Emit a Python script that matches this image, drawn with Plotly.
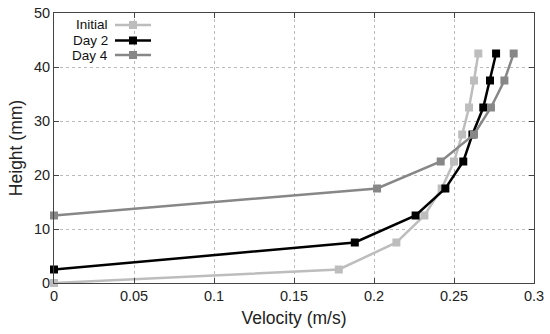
import plotly.graph_objects as go

heights_initial = [0, 2.5, 7.5, 12.5, 17.5, 22.5, 27.5, 32.5, 37.5, 42.5]
vel_initial = [0, 0.178, 0.214, 0.2315, 0.2423, 0.250, 0.2551, 0.2594, 0.2625, 0.2652]

heights_day2 = [2.5, 7.5, 12.5, 17.5, 22.5, 27.5, 32.5, 37.5, 42.5]
vel_day2 = [0, 0.188, 0.226, 0.2446, 0.2558, 0.2615, 0.2683, 0.2725, 0.2763]

heights_day4 = [12.5, 17.5, 22.5, 27.5, 32.5, 37.5, 42.5]
vel_day4 = [0, 0.2019, 0.2417, 0.2625, 0.2731, 0.2815, 0.2873]

series_names = ["Initial", "Day 2", "Day 4"]
colors = ["#bdbdbd", "#000000", "#878787"]
x_ticks = [0, 0.05, 0.1, 0.15, 0.2, 0.25, 0.3]
x_tick_text = ["0", "0.05", "0.1", "0.15", "0.2", "0.25", "0.3"]
y_ticks = [0, 10, 20, 30, 40, 50]

fig = go.Figure()
data = [(vel_initial, heights_initial), (vel_day2, heights_day2), (vel_day4, heights_day4)]
for (xs, ys), name, c in zip(data, series_names, colors):
    fig.add_trace(go.Scatter(
        x=xs, y=ys, name=name, mode="lines+markers",
        line=dict(color=c, width=2.5),
        marker=dict(symbol="square", size=8, color=c),
        cliponaxis=False, showlegend=False,
    ))

font = "Liberation Sans, Arial, sans-serif"

# manual legend: text on the left, sample line on the right
leg_y = [25, 40.5, 55]
for name, c, yy in zip(series_names, colors, leg_y):
    yp = 1 - (yy - 13) / 270.0
    x0 = (115 - 54) / 480.0
    x1 = (151 - 54) / 480.0
    xm = (133 - 54) / 480.0
    fig.add_annotation(x=(110 - 54) / 480.0, y=yp, xref="paper", yref="paper",
                       text=name, showarrow=False, xanchor="right", yanchor="middle",
                       font=dict(size=13.5, color="#111", family=font))
    fig.add_shape(type="line", xref="paper", yref="paper", x0=x0, x1=x1, y0=yp, y1=yp,
                  line=dict(color=c, width=2.5))
    fig.add_shape(type="rect", xref="paper", yref="paper",
                  x0=xm - 4 / 480.0, x1=xm + 4 / 480.0, y0=yp - 4 / 270.0, y1=yp + 4 / 270.0,
                  fillcolor=c, line=dict(width=0))

axis_common = dict(
    showline=True, linecolor="#444", linewidth=1, mirror="allticks",
    ticks="inside", ticklen=5, tickcolor="#444",
    showgrid=True, gridcolor="#bbbbbb", griddash="dot", gridwidth=1,
    zeroline=False, tickfont=dict(size=14.5, color="#222", family=font),
    automargin=False,
)

fig.update_xaxes(range=[0, 0.3], tickvals=x_ticks, ticktext=x_tick_text,
                 title=dict(text="Velocity (m/s)", font=dict(size=17.5, color="#222", family=font), standoff=8),
                 **axis_common)
fig.update_yaxes(range=[0, 50], tickvals=y_ticks,
                 title=dict(text="Height (mm)", font=dict(size=17.5, color="#222", family=font), standoff=6),
                 **axis_common)

fig.update_layout(
    width=550, height=334,
    margin=dict(l=54, r=16, t=13, b=51, autoexpand=False),
    plot_bgcolor="white", paper_bgcolor="white",
    font=dict(family=font),
)

# remove the default 8px body margin so the figure fills the window exactly
fig.write_html("out.html", config={"displayModeBar": False},
               post_script="document.body.style.margin='0px';")
